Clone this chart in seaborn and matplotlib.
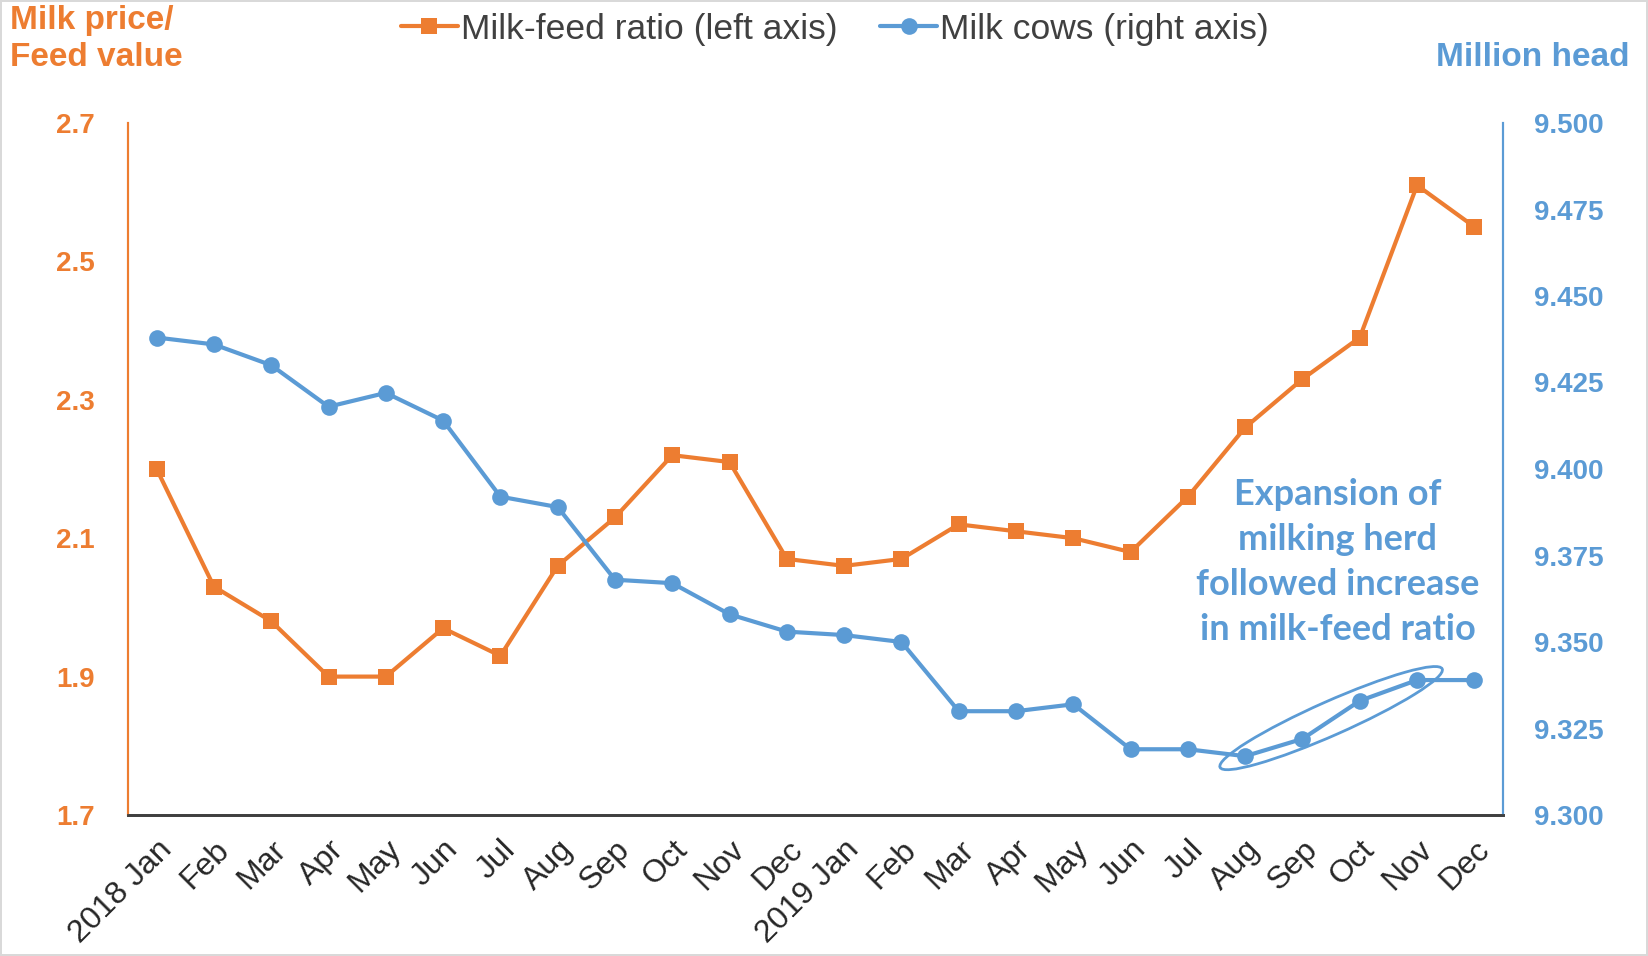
import numpy as np
import pandas as pd
import seaborn as sns
import matplotlib.pyplot as plt
from matplotlib.patches import Ellipse
from matplotlib.transforms import IdentityTransform
from matplotlib.lines import Line2D

# Chart data
months = ["2018 Jan", "Feb", "Mar", "Apr", "May", "Jun", "Jul", "Aug", "Sep", "Oct", "Nov", "Dec",
          "2019 Jan", "Feb", "Mar", "Apr", "May", "Jun", "Jul", "Aug", "Sep", "Oct", "Nov", "Dec"]
milk_feed_ratio = [2.20, 2.03, 1.98, 1.90, 1.90, 1.97, 1.93, 2.06, 2.13, 2.22, 2.21, 2.07,
                   2.06, 2.07, 2.12, 2.11, 2.10, 2.08, 2.16, 2.26, 2.33, 2.39, 2.61, 2.55]
milk_cows = [9.438, 9.436, 9.430, 9.418, 9.422, 9.414, 9.392, 9.389, 9.368, 9.367, 9.358, 9.353,
             9.352, 9.350, 9.330, 9.330, 9.332, 9.319, 9.319, 9.317, 9.322, 9.333, 9.339, 9.339]
left_ticks = [1.7, 1.9, 2.1, 2.3, 2.5, 2.7]
right_ticks = [9.300, 9.325, 9.350, 9.375, 9.400, 9.425, 9.450, 9.475, 9.500]

ORANGE = "#ED7D31"
BLUE = "#5B9BD5"

df = pd.DataFrame({"idx": np.arange(len(months)), "ratio": milk_feed_ratio, "cows": milk_cows})

sns.set_style("white")
plt.rcParams['font.family'] = ['Liberation Sans', 'DejaVu Sans']

fig = plt.figure(figsize=(16.48, 9.56), dpi=100)
fig.patch.set_edgecolor("#d9d9d9")
fig.patch.set_linewidth(1.5)
ax = fig.add_axes([128 / 1648, 1 - 815 / 956, (1503 - 128) / 1648, (815 - 123) / 956])
ax2 = ax.twinx()

sns.lineplot(data=df, x="idx", y="ratio", ax=ax, color=ORANGE, lw=3, marker="s",
             markersize=12, markeredgewidth=0, legend=False)
sns.lineplot(data=df, x="idx", y="cows", ax=ax2, color=BLUE, lw=3, marker="o",
             markersize=12, markeredgewidth=0, legend=False)

ax.set_xlim(-0.5, len(months) - 0.5)
ax.set_ylim(1.7, 2.7)
ax2.set_ylim(9.3, 9.5)
ax.set_yticks(left_ticks)
ax.set_yticklabels([f"{v:.1f}" for v in left_ticks], color=ORANGE, fontsize=20, fontweight="bold")
ax2.set_yticks(right_ticks)
ax2.set_yticklabels([f"{v:.3f}" for v in right_ticks], color=BLUE, fontsize=20, fontweight="bold")
ax.set_xticks(df["idx"])
ax.set_xticklabels(months, rotation=45, ha="right", rotation_mode="anchor", fontsize=23)
ax.tick_params(axis="x", length=0, pad=14)
ax.tick_params(axis="y", length=0, pad=24)
ax2.tick_params(axis="y", length=0, pad=22)
ax.set_xlabel("")
ax.set_ylabel("")
ax2.set_ylabel("")

for a in (ax, ax2):
    a.spines["top"].set_visible(False)
    a.spines["bottom"].set_color("#404040")
    a.spines["bottom"].set_linewidth(2)
    a.spines["left"].set_color(ORANGE)
    a.spines["left"].set_linewidth(1.5)
    a.spines["right"].set_color(BLUE)
    a.spines["right"].set_linewidth(1.5)
ax.grid(False)
ax2.grid(False)

# axis titles
fig.text(10 / 1648, 1 - 5 / 956, "Milk price/\nFeed value", color=ORANGE, fontsize=24,
         fontweight="bold", va="top", ha="left", linespacing=1.25)
fig.text(1630 / 1648, 1 - 58 / 956, "Million head", color=BLUE, fontsize=24,
         fontweight="bold", va="center", ha="right")

# legend
handles = [Line2D([], [], color=ORANGE, lw=3, marker="s", markersize=12, markeredgewidth=0),
           Line2D([], [], color=BLUE, lw=3, marker="o", markersize=12, markeredgewidth=0)]
fig.legend(handles, ["Milk-feed ratio (left axis)", "Milk cows (right axis)"],
           loc="center", bbox_to_anchor=(835 / 1648, 1 - 29 / 956), ncol=2, frameon=False,
           handlelength=1.6, handletextpad=0.1, columnspacing=1.2,
           prop={"size": 25.5}, labelcolor="#404040")

# annotation
ax.text(1338 / 1648, 1 - 562 / 956, "Expansion of\nmilking herd\nfollowed increase\nin milk-feed ratio",
        transform=fig.transFigure, color=BLUE, fontsize=26, fontweight="bold",
        family=['Lato', 'DejaVu Sans'], ha="center", va="center", linespacing=1.45)

# ellipse around Aug-Nov 2019 cow points, drawn in pixel space
pts = ax2.transData.transform(np.column_stack([df["idx"].values[19:23], df["cows"].values[19:23]]))
p0, p1 = pts[0], pts[-1]
center = (p0 + p1) / 2
dx, dy = p1 - p0
length = np.hypot(dx, dy) + 55
angle = np.degrees(np.arctan2(dy, dx))
ell = Ellipse(center, length, 34, angle=angle, transform=IdentityTransform(),
              fill=False, edgecolor=BLUE, lw=2)
fig.add_artist(ell)

fig.savefig("out.png", dpi=100)
